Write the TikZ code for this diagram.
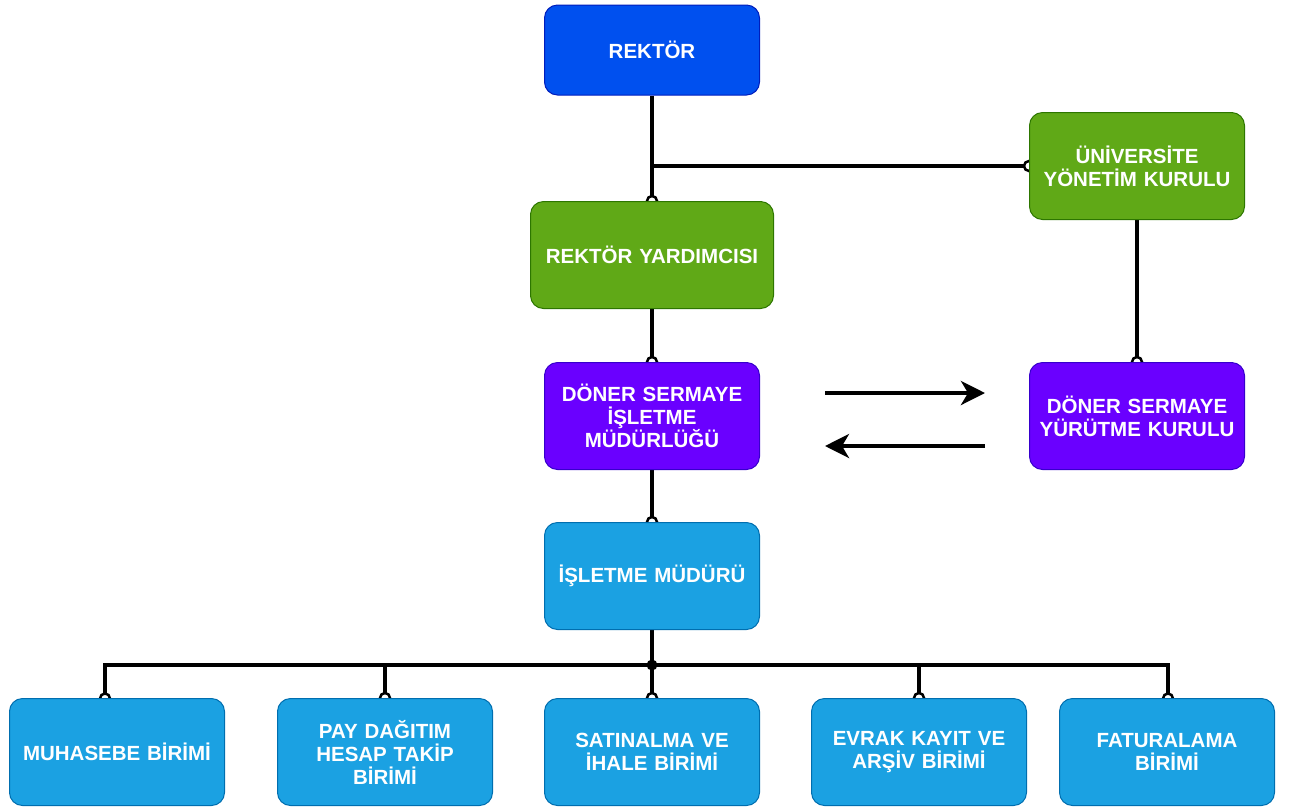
\documentclass[tikz,border=0pt]{standalone}
\usepackage{fontspec}
\setmainfont{Liberation Sans}
\usetikzlibrary{arrows.meta,backgrounds}
\definecolor{cblue}{HTML}{0050EF}
\definecolor{cblueD}{HTML}{001DBC}
\definecolor{cgreen}{HTML}{60A917}
\definecolor{cgreenD}{HTML}{2D7600}
\definecolor{cpurple}{HTML}{6A00FF}
\definecolor{cpurpleD}{HTML}{3700CC}
\definecolor{clblue}{HTML}{1BA1E2}
\definecolor{clblueD}{HTML}{006EAF}
\begin{document}
\begin{tikzpicture}[x=1pt,y=-1pt,
  box/.style={rounded corners=13pt, minimum width=215pt, minimum height=107pt,
    text width=210pt, align=center, line width=1pt, text=white,
    font=\fontsize{20.5}{23}\selectfont\bfseries, inner sep=0pt},
  bluebox/.style={box, fill=cblue, draw=cblueD},
  greenbox/.style={box, fill=cgreen, draw=cgreenD},
  purplebox/.style={box, fill=cpurple, draw=cpurpleD},
  lbluebox/.style={box, fill=clblue, draw=clblueD},
  conn/.style={line width=4pt, black},
  endc/.style={fill=white, draw=black, line width=2.5pt},
  arr/.style={line width=4pt, black, -{Stealth[length=24pt,width=24pt,inset=7pt]}}
]
\useasboundingbox (0,0) rectangle (1291,807);

\node[bluebox, minimum height=90pt] (rektor) at (652,50) {REKTÖR};
\node[greenbox] (univ) at (1137,166) {ÜNİVERSİTE\\YÖNETİM KURULU};
\node[greenbox, minimum width=243pt, text width=238pt] (ry) at (652,255) {REKTÖR YARDIMCISI};
\node[purplebox] (dsim) at (652,416) {DÖNER SERMAYE\\İŞLETME\\MÜDÜRLÜĞÜ};
\node[purplebox] (dsyk) at (1137,416) {DÖNER SERMAYE\\YÜRÜTME KURULU};
\node[lbluebox] (im) at (652,576) {İŞLETME MÜDÜRÜ};
\node[lbluebox] (b1) at (117,752) {MUHASEBE BİRİMİ};
\node[lbluebox] (b2) at (385,752) {PAY DAĞITIM\\HESAP TAKİP\\BİRİMİ};
\node[lbluebox] (b3) at (652,752) {SATINALMA VE\\İHALE BİRİMİ};
\node[lbluebox] (b4) at (919,752) {EVRAK KAYIT VE\\ARŞİV BİRİMİ};
\node[lbluebox] (b5) at (1167,752) {FATURALAMA\\BİRİMİ};

\coordinate (j) at (652,665);
\coordinate (d1) at (105,698.5);
\coordinate (d5) at (1168,698.5);
\coordinate (a1s) at (825,393);
\coordinate (a1e) at (985,393);
\coordinate (a2s) at (985,446);
\coordinate (a2e) at (825,446);

\begin{scope}[on background layer]
  \draw[conn] (rektor.south) -- (ry.north);
  \draw[conn] (rektor.south |- univ.west) -- (univ.west);
  \draw[conn] (univ.south) -- (dsyk.north);
  \draw[conn] (ry.south) -- (dsim.north);
  \draw[conn] (dsim.south) -- (im.north);
  \draw[conn] (im.south) -- (j);
  \draw[conn] (j) -| (d1);
  \draw[conn] (j) -| (b2.north);
  \draw[conn] (j) -- (b3.north);
  \draw[conn] (j) -| (b4.north);
  \draw[conn] (j) -| (d5);
  \foreach \p in {ry.north, univ.west, dsim.north, dsyk.north, im.north, d1, b2.north, b3.north, b4.north, d5}
    \draw[endc] (\p) circle (5pt);
\end{scope}
\fill[black] (j) circle (5.5pt);

\draw[arr] (a1s) -- (a1e);
\draw[arr] (a2s) -- (a2e);
\end{tikzpicture}
\end{document}
